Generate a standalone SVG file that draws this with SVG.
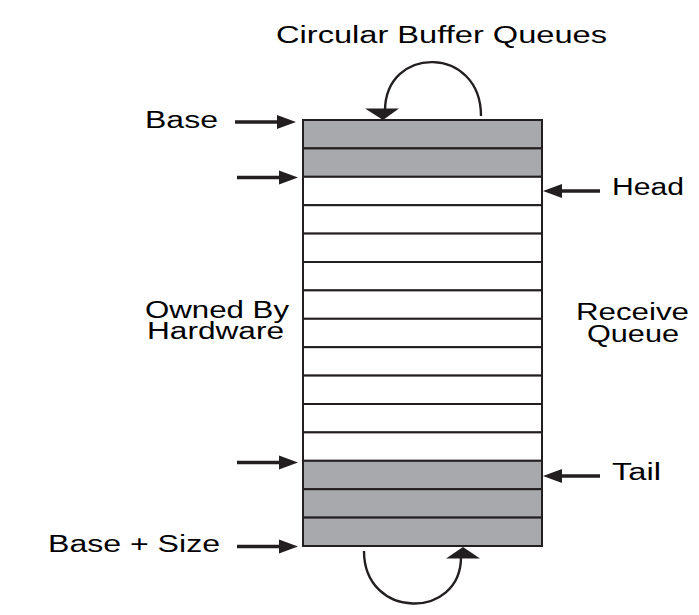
<svg xmlns="http://www.w3.org/2000/svg" width="699" height="615" viewBox="0 0 699 615">
<style>
text{font-family:"Liberation Sans",Arial,sans-serif;font-size:23.5px;fill:#000}
.g{fill:#a7a9ac;stroke:#231f20;stroke-width:2}
.w{fill:#fff;stroke:#231f20;stroke-width:2}
.sh{stroke:#231f20;stroke-width:3.5;fill:none}
.arc{stroke:#231f20;stroke-width:2.4;fill:none}
.hd{fill:#231f20}
</style>
<rect width="699" height="615" fill="#fff"/>
<g id="buffer">
<g id="row0"><rect class="g" x="303" y="120" width="239" height="28.4"/></g>
<g id="row1"><rect class="g" x="303" y="148.4" width="239" height="28.4"/></g>
<g id="row2"><rect class="w" x="303" y="176.8" width="239" height="28.4"/></g>
<g id="row3"><rect class="w" x="303" y="205.2" width="239" height="28.4"/></g>
<g id="row4"><rect class="w" x="303" y="233.6" width="239" height="28.4"/></g>
<g id="row5"><rect class="w" x="303" y="262" width="239" height="28.4"/></g>
<g id="row6"><rect class="w" x="303" y="290.4" width="239" height="28.4"/></g>
<g id="row7"><rect class="w" x="303" y="318.8" width="239" height="28.4"/></g>
<g id="row8"><rect class="w" x="303" y="347.2" width="239" height="28.4"/></g>
<g id="row9"><rect class="w" x="303" y="375.6" width="239" height="28.4"/></g>
<g id="row10"><rect class="w" x="303" y="404" width="239" height="28.4"/></g>
<g id="row11"><rect class="w" x="303" y="432.4" width="239" height="28.4"/></g>
<g id="row12"><rect class="g" x="303" y="460.8" width="239" height="28.4"/></g>
<g id="row13"><rect class="g" x="303" y="489.2" width="239" height="28.4"/></g>
<g id="row14"><rect class="g" x="303" y="517.6" width="239" height="28.4"/></g>
</g>
<g id="labels">
<g id="title"><text x="276" y="43" textLength="331" lengthAdjust="spacingAndGlyphs">Circular Buffer Queues</text></g>
<g id="base"><text x="145" y="128" textLength="73" lengthAdjust="spacingAndGlyphs">Base</text></g>
<g id="head"><text x="612" y="195" textLength="72" lengthAdjust="spacingAndGlyphs">Head</text></g>
<g id="owned"><text x="145" y="318" textLength="144" lengthAdjust="spacingAndGlyphs">Owned By</text><text x="147" y="339" textLength="137" lengthAdjust="spacingAndGlyphs">Hardware</text></g>
<g id="receive"><text x="576" y="320" textLength="113" lengthAdjust="spacingAndGlyphs">Receive</text><text x="587" y="342" textLength="92" lengthAdjust="spacingAndGlyphs">Queue</text></g>
<g id="tail"><text x="612" y="480" textLength="49" lengthAdjust="spacingAndGlyphs">Tail</text></g>
<g id="basesize"><text x="48" y="552" textLength="172" lengthAdjust="spacingAndGlyphs">Base + Size</text></g>
</g>
<g id="connectors">
<line class="sh" x1="235" y1="122" x2="280" y2="122"/><polygon class="hd" points="296,122 277,115 277,129"/>
<line class="sh" x1="237" y1="177.5" x2="282" y2="177.5"/><polygon class="hd" points="298,177.5 279,170.5 279,184.5"/>
<line class="sh" x1="237" y1="462.5" x2="282" y2="462.5"/><polygon class="hd" points="298,462.5 279,455.5 279,469.5"/>
<line class="sh" x1="237" y1="546.5" x2="282" y2="546.5"/><polygon class="hd" points="298,546.5 279,539.5 279,553.5"/>
<line class="sh" x1="600" y1="191" x2="558" y2="191"/><polygon class="hd" points="543,191 562,184 562,198"/>
<line class="sh" x1="600" y1="476" x2="558" y2="476"/><polygon class="hd" points="543,476 562,469 562,483"/>
<path class="arc" d="M481,116 C481,45 385,45 385,111"/><polygon class="hd" points="383,120 365,108.5 399,108.5"/>
<path class="arc" d="M364,551 C364,620 461,620 461,557"/><polygon class="hd" points="463,547 446,558.5 480,558.5"/>
</g>
</svg>
